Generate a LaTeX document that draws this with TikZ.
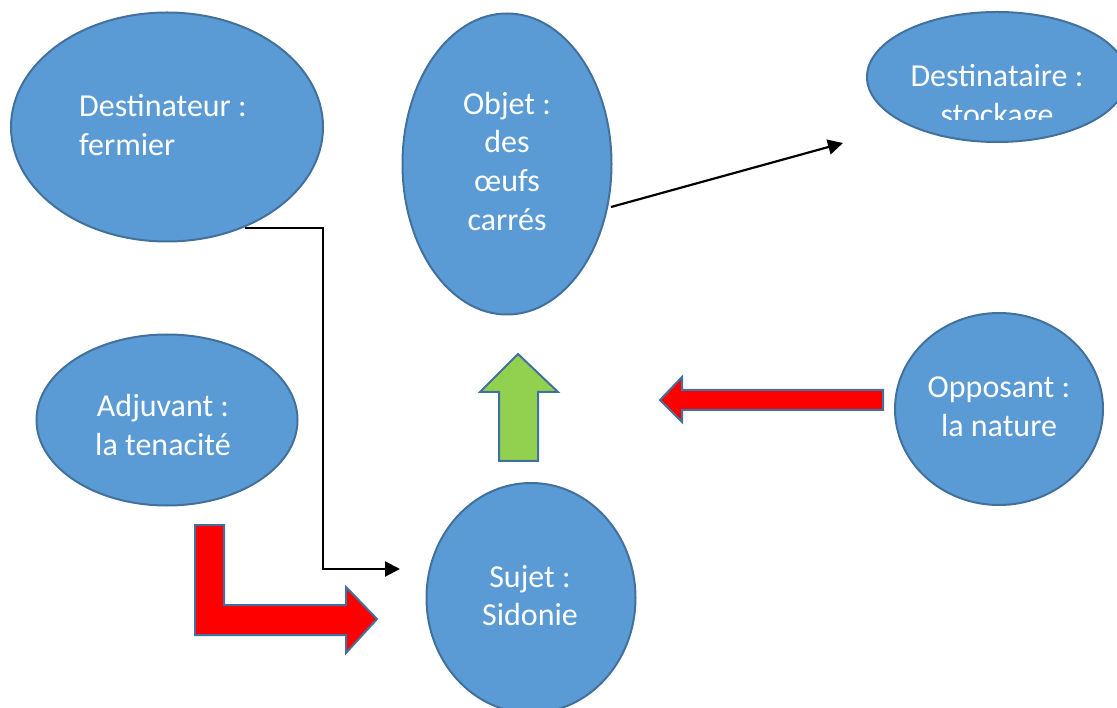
\documentclass[tikz,border=0pt]{standalone}
\usepackage{fontspec}
\setmainfont{Carlito}
\usetikzlibrary{shapes.geometric,arrows.meta}
\definecolor{ellfill}{HTML}{5B9BD5}
\definecolor{ellline}{HTML}{41719C}
\definecolor{greenfill}{HTML}{92D050}
\definecolor{redfill}{HTML}{FF0000}
\tikzset{
  actant/.style={ellipse, draw=ellline, fill=ellfill, line width=2pt, inner sep=0pt},
  lbl/.style={text=white, font=\fontsize{32}{38}\selectfont, inner sep=0pt, anchor=base},
  lblw/.style={lbl, anchor=base west},
  conn/.style={draw=black, line width=2.2pt, -{Triangle[length=15pt,width=15pt]}},
  blockarrow/.style={draw=ellline, line width=2pt, line join=miter},
}
\begin{document}
\begin{tikzpicture}[x=1pt,y=-1pt]
\useasboundingbox (0,0) rectangle (1117,708);
\clip (0,0) rectangle (1117,708);
\fill[white] (0,0) rectangle (1117,708);

% ellipses
\node[actant, minimum width=312pt, minimum height=229pt] (dest) at (167,127) {};
\node[actant, minimum width=209pt, minimum height=301pt] (objet) at (507,164) {};
\node[actant, minimum width=260pt, minimum height=130pt] (destin) at (997,77) {};
\node[actant, minimum width=261pt, minimum height=171pt] (adj) at (167,420) {};
\node[actant, minimum width=208pt, minimum height=192pt] (opp) at (999,409) {};
\node[actant, minimum width=209pt, minimum height=230pt] (sujet) at (531,598) {};

% texts
\node[lblw] (t1a) at (79,117) {Destinateur :};
\node[lblw] (t1b) at (79,156) {fermier};

\node[lbl] (t2a) at (507,115) {Objet :};
\node[lbl] (t2b) at (507,153) {des};
\node[lbl] (t2c) at (507,192) {œufs};
\node[lbl] (t2d) at (507,231) {carrés};

\node[lbl] (t3a) at (997,87) {Destinataire :};
\begin{scope}
\clip (860,0) rectangle (1117,120);
\node[lbl] (t3b) at (997,126) {stockage};
\end{scope}

\node[lbl] (t4a) at (163,417) {Adjuvant :};
\node[lbl] (t4b) at (163,456) {la tenacité};

\node[lbl] (t5a) at (999,398) {Opposant :};
\node[lbl] (t5b) at (999,437) {la nature};

\node[lbl] (t6a) at (530,587) {Sujet :};
\node[lbl] (t6b) at (530,625) {Sidonie};

% line connectors
\coordinate (destout) at (245,228);
\coordinate (sujetin) at (400,569);
\draw[conn] (destout) -- (323,228) |- (sujetin);

\coordinate (objout) at (611,207);
\coordinate (destinin) at (843,143);
\draw[conn] (objout) -- (destinin);

% block arrows
\draw[blockarrow, fill=greenfill]
  (518,354) -- (558,392) -- (538,392) -- (538,461) -- (499,461) -- (499,392) -- (480,392) -- cycle;
\draw[blockarrow, fill=redfill]
  (660,400) -- (682,377) -- (682,390) -- (883,390) -- (883,410) -- (682,410) -- (682,422) -- cycle;
\draw[blockarrow, fill=redfill]
  (195,525) -- (224,525) -- (224,605) -- (346,605) -- (346,587) -- (377,619) -- (346,653) -- (346,635) -- (195,635) -- cycle;
\end{tikzpicture}
\end{document}
